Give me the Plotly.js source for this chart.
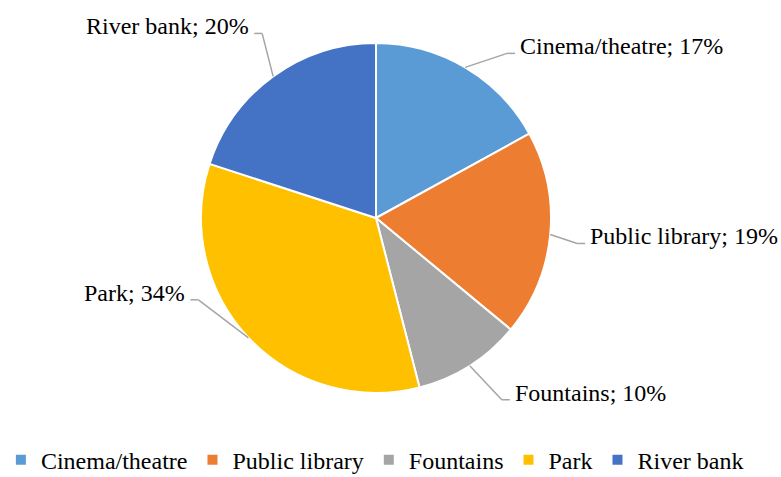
<!DOCTYPE html>
<html><head><meta charset="utf-8">
<script src="https://cdn.plot.ly/plotly-3.0.1.min.js"></script>
<style>html,body{margin:0;padding:0;background:#fff;}#chart{width:781px;height:477px;}</style>
</head><body><div id="chart"></div>
<script>
// ---- data ----
var categories = ["Cinema/theatre", "Public library", "Fountains", "Park", "River bank"];
var shares = [17, 19, 10, 34, 20];
var colors = ["#5B9BD5", "#ED7D31", "#A5A5A5", "#FFC000", "#4472C4"];

// ---- style / layout constants ----
var W = 781, H = 477;
var PIE = {left: 0, right: 752, top: 43, bottom: 393};
var R = Math.min(PIE.right - PIE.left, PIE.bottom - PIE.top) / 2;
var CX = (PIE.left + PIE.right) / 2, CY = (PIE.top + PIE.bottom) / 2;
// leader elbow offsets (pixels from slice edge point) and side of label
var leader = [
  {dx: 42, dy: -14, side: 1},
  {dx: 27, dy: 9, side: 1},
  {dx: 32, dy: 34, side: 1},
  {dx: -50, dy: -38, side: -1},
  {dx: -11, dy: -43, side: -1}
];
var HSEG = 8, TGAP = 3;
var FONT = "Liberation Serif";
var FSIZE = 24;

function px2x(px) { return px / W; }
function py2y(py) { return (H - py) / H; }

var total = shares.reduce(function (a, b) { return a + b; }, 0);
var annotations = [], shapes = [];
var cum = 0;
for (var i = 0; i < shares.length; i++) {
  var mid = (cum + shares[i] / 2) / total * 2 * Math.PI;
  cum += shares[i];
  var ax = CX + R * Math.sin(mid), ay = CY - R * Math.cos(mid);
  var L = leader[i];
  var ex = ax + L.dx, ey = ay + L.dy;
  var hx = ex + L.side * HSEG;
  var lineStyle = {color: "#A5A5A5", width: 1.5};
  shapes.push({type: "line", xref: "paper", yref: "paper", x0: px2x(ax), y0: py2y(ay), x1: px2x(ex), y1: py2y(ey), line: lineStyle});
  shapes.push({type: "line", xref: "paper", yref: "paper", x0: px2x(ex), y0: py2y(ey), x1: px2x(hx), y1: py2y(ey), line: lineStyle});
  annotations.push({
    xref: "paper", yref: "paper",
    x: px2x(hx + L.side * TGAP), y: py2y(ey - 7),
    xanchor: L.side > 0 ? "left" : "right", yanchor: "middle",
    text: categories[i] + "; " + shares[i] + "%",
    showarrow: false,
    font: {family: FONT, size: FSIZE, color: "#000"}
  });
}

var trace = {
  type: "pie",
  labels: categories,
  values: shares,
  sort: false,
  direction: "clockwise",
  rotation: 0,
  textinfo: "none",
  hoverinfo: "skip",
  marker: {colors: colors, line: {color: "#fff", width: 2}},
  domain: {x: [px2x(PIE.left), px2x(PIE.right)], y: [py2y(PIE.bottom), py2y(PIE.top)]}
};

var layout = {
  width: W, height: H,
  margin: {l: 0, r: 0, t: 0, b: 0, autoexpand: false},
  paper_bgcolor: "#fff",
  showlegend: true,
  legend: {
    orientation: "h", x: 0.48, xanchor: "center", y: -0.012, yanchor: "bottom",
    font: {family: FONT, size: FSIZE, color: "#000"},
    traceorder: "normal"
  },
  annotations: annotations,
  shapes: shapes
};

Plotly.newPlot("chart", [trace], layout, {displayModeBar: false, staticPlot: true});
</script>
</body></html>
